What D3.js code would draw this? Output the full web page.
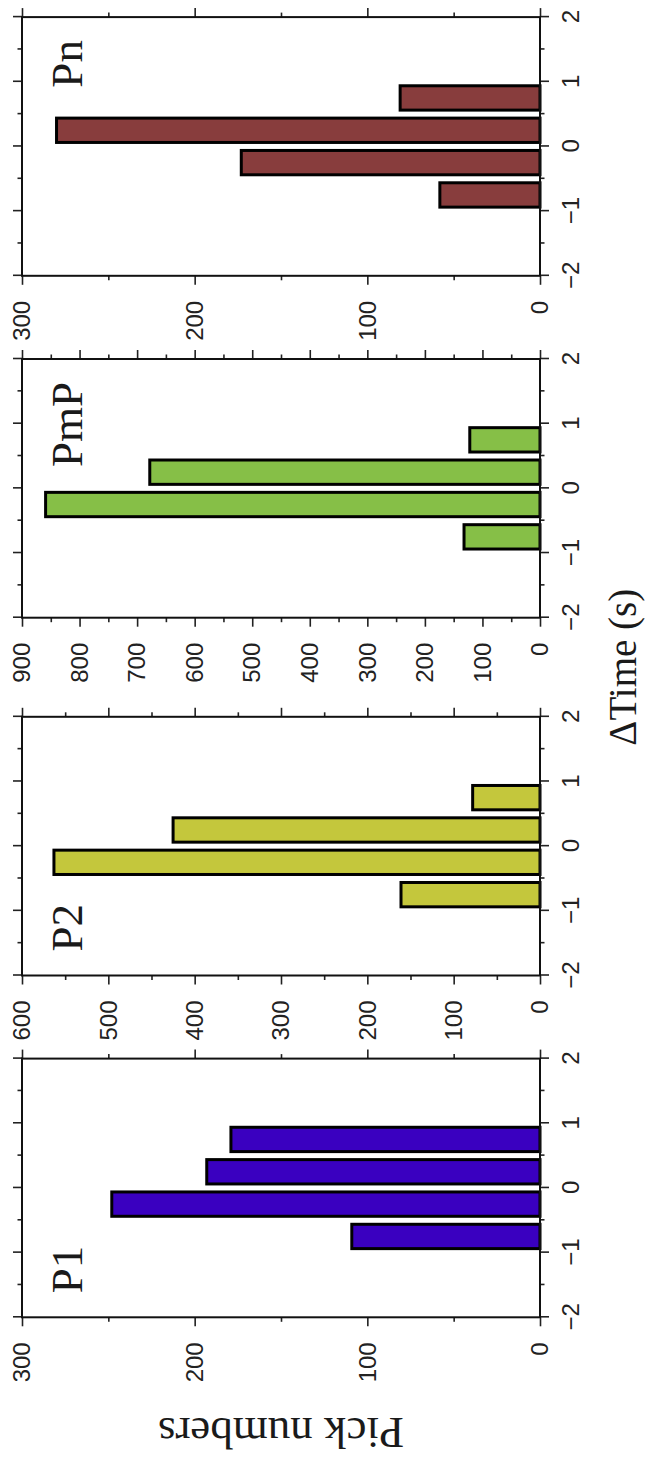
<!DOCTYPE html>
<html>
<head>
<meta charset="utf-8">
<script src="https://cdn.jsdelivr.net/npm/d3@7"></script>
<style>
  html, body { margin: 0; padding: 0; background: #fff; }
  svg { display: block; }
</style>
</head>
<body>
<svg id="chart" width="648" height="1460"></svg>
<script>
// Travel-time residual histograms, one panel per seismic phase
const phases = ["P1", "P2", "PmP", "Pn"];
const binEdges = [-1, -0.5, 0, 0.5, 1];           // ΔTime bins (s)
const p1Counts  = [109, 248, 193, 179];
const p2Counts  = [161, 563, 425, 78];
const pmpCounts = [132, 859, 678, 122];
const pnCounts  = [58, 173, 280, 81];
const pickMax = [300, 600, 900, 300];             // upper limit of each count axis
const timeTicks = [-2, -1, 0, 1, 2];
const timeMinorTicks = [-1.5, -0.5, 0.5, 1.5];
const countStep = 100;

const counts = [p1Counts, p2Counts, pmpCounts, pnCounts];
const barColors = ["#3a00c0", "#c4c73c", "#86bf47", "#883d3d"];

// The figure is laid out landscape and turned a quarter turn on the page
const W = 1460, H = 648;
const svg = d3.select("#chart");
svg.append("rect").attr("width", 648).attr("height", 1460).attr("fill", "#fff");
const fig = svg.append("g").attr("transform", `translate(0,${W}) rotate(-90)`);

const panelLeft = [142.7, 484.5, 842.3, 1184.2];
const panelW = 258.7;
const plotTop = 22, plotBottom = 540;
const labelAnchor = ["start", "start", "end", "end"];

const tickFont = "Liberation Sans, Arial, Helvetica, sans-serif";
const serif = "Liberation Serif, Times New Roman, Times, serif";
const intFmt = d3.format("d");

phases.forEach((name, i) => {
  const x0 = panelLeft[i], x1 = x0 + panelW;
  const xs = d3.scaleLinear().domain([-2, 2]).range([x0, x1]);
  const ys = d3.scaleLinear().domain([0, pickMax[i]]).range([plotBottom, plotTop]);
  const g = fig.append("g");

  const majorCounts = d3.range(0, pickMax[i] + 1, countStep);
  const minorCounts = d3.range(countStep / 2, pickMax[i], countStep);

  // bars
  const bins = d3.range(counts[i].length).map(k => ({
    a: binEdges[k], b: binEdges[k + 1], v: counts[i][k]
  }));
  const inset = 4;
  g.selectAll("rect.bar").data(bins).join("rect")
    .attr("class", "bar")
    .attr("x", d => xs(d.a) + inset)
    .attr("width", d => xs(d.b) - xs(d.a) - 2 * inset)
    .attr("y", d => ys(d.v))
    .attr("height", d => ys(0) - ys(d.v))
    .attr("fill", barColors[i])
    .attr("stroke", "#000")
    .attr("stroke-width", 3);

  // ticks on all four sides, annotated on the bottom and left only
  const styleAxis = sel => {
    sel.select(".domain").remove();
    sel.selectAll("line").attr("stroke", "#222").attr("stroke-width", 1.6);
    sel.selectAll("text").attr("font-family", tickFont).attr("font-size", 24).attr("fill", "#222");
  };
  const blank = () => "";

  g.append("g").attr("transform", `translate(0,${plotBottom})`)
    .call(d3.axisBottom(xs).tickValues(timeTicks).tickSize(9).tickSizeOuter(0).tickPadding(13).tickFormat(intFmt))
    .call(styleAxis);
  g.append("g").attr("transform", `translate(0,${plotBottom})`)
    .call(d3.axisBottom(xs).tickValues(timeMinorTicks).tickSize(4.5).tickSizeOuter(0).tickFormat(blank))
    .call(styleAxis);
  g.append("g").attr("transform", `translate(0,${plotTop})`)
    .call(d3.axisTop(xs).tickValues(timeTicks).tickSize(9).tickSizeOuter(0).tickFormat(blank))
    .call(styleAxis);
  g.append("g").attr("transform", `translate(0,${plotTop})`)
    .call(d3.axisTop(xs).tickValues(timeMinorTicks).tickSize(4.5).tickSizeOuter(0).tickFormat(blank))
    .call(styleAxis);

  g.append("g").attr("transform", `translate(${x0},0)`)
    .call(d3.axisLeft(ys).tickValues(majorCounts).tickSize(9).tickSizeOuter(0).tickPadding(16).tickFormat(intFmt))
    .call(styleAxis);
  g.append("g").attr("transform", `translate(${x0},0)`)
    .call(d3.axisLeft(ys).tickValues(minorCounts).tickSize(4.5).tickSizeOuter(0).tickFormat(blank))
    .call(styleAxis);
  g.append("g").attr("transform", `translate(${x1},0)`)
    .call(d3.axisRight(ys).tickValues(majorCounts).tickSize(9).tickSizeOuter(0).tickFormat(blank))
    .call(styleAxis);
  g.append("g").attr("transform", `translate(${x1},0)`)
    .call(d3.axisRight(ys).tickValues(minorCounts).tickSize(4.5).tickSizeOuter(0).tickFormat(blank))
    .call(styleAxis);

  // frame
  g.append("rect")
    .attr("x", x0).attr("y", plotTop)
    .attr("width", panelW).attr("height", plotBottom - plotTop)
    .attr("fill", "none").attr("stroke", "#111").attr("stroke-width", 2);

  // phase name
  g.append("text")
    .attr("x", labelAnchor[i] === "start" ? x0 + 24 : x1 - 23)
    .attr("y", 82)
    .attr("text-anchor", labelAnchor[i])
    .attr("font-family", serif)
    .attr("font-size", 45)
    .attr("fill", "#1a1a1a")
    .text(name);
});

// axis titles
fig.append("text")
  .attr("transform", `translate(42,${(plotTop + plotBottom) / 2}) rotate(-90)`)
  .attr("text-anchor", "middle")
  .attr("font-family", serif)
  .attr("font-size", 45)
  .attr("fill", "#1a1a1a")
  .text("Pick numbers");

fig.append("text")
  .attr("x", (panelLeft[0] + panelLeft[3] + panelW) / 2)
  .attr("y", 636)
  .attr("text-anchor", "middle")
  .attr("font-family", serif)
  .attr("font-size", 39)
  .attr("fill", "#1a1a1a")
  .text("ΔTime (s)");
</script>
</body>
</html>
